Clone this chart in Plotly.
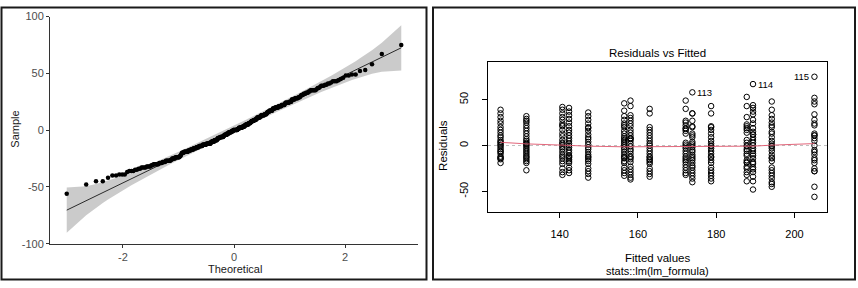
import plotly.graph_objects as go
from statistics import NormalDist
import math

# ---------------- data ----------------
group_fitted = [124.9, 131.5, 140.7, 142.4, 147.3, 156.5, 158.1, 163.0,
                172.2, 173.9, 178.7, 187.8, 189.4, 194.2, 205.1]

res_g1 = [39, 35, 31, 27, 24, 20, 17, 14, 11, 9, 6, 4, 3, 1, 0, -2, -4, -6, -7, -9, -12, -13, -14, -15, -19]
res_g2 = [32, 29, 27, 25, 22, 19, 16, 13, 10, 7, 5, 3, 2, 1, 0, -2, -4, -6, -8, -10, -12, -13, -15, -17, -19, -27]
res_g3 = [42, 39, 35, 31, 28, 24, 22, 21, 17, 13, 10, 6, 3, 2, 0, -2, -4, -7, -10, -12, -14, -17, -20, -25, -29, -32]
res_g4 = [41, 37, 33, 29, 25, 21, 17, 14, 11, 8, 5, 2, 0, -2, -5, -8, -11, -12, -13, -15, -17, -19, -24, -27, -30]
res_g5 = [36, 32, 28, 24, 20, 19, 16, 12, 9, 7, 4, 1, -2, -4, -7, -10, -12, -13, -15, -17, -20, -25, -28, -31, -35]
res_g6 = [46, 38, 32, 28, 24, 22, 20, 16, 13, 10, 8, 6, 4, 2, 0, -2, -4, -7, -10, -12, -13, -14, -17, -19, -24, -27, -30, -33]
res_g7 = [49, 43, 33, 30, 27, 24, 21, 17, 14, 11, 8, 8, 7, 5, 2, -1, -4, -6, -9, -12, -13, -15, -18, -23, -26, -29, -32, -35, -37]
res_g8 = [40, 35, 20, 17, 14, 11, 8, 5, 2, 0, -3, -6, -9, -12, -13, -15, -16, -18, -20, -25, -28, -31, -34]
res_g9 = [49, 40, 27, 25, 22, 19, 18, 16, 13, 3, 1, -1, -3, -6, -9, -12, -14, -16, -18, -21, -24, -27, -30, -32]
res_g10 = [58, 35, 35, 27, 21, 20, 13, 11, 9, 4, 2, 0, -2, -5, -7, -10, -12, -14, -16, -19, -22, -24, -27, -30, -33, -36, -40]
res_g11 = [43, 35, 21, 20, 17, 13, 9, 5, 2, 0, -1, -3, -6, -9, -12, -13, -16, -19, -24, -27, -30, -33, -36, -39]
res_g12 = [53, 43, 31, 23, 21, 19, 17, 14, 6, 3, 0, -1, -4, -6, -9, -11, -16, -18, -19, -23, -25, -29, -32, -39]
res_g13 = [67, 44, 41, 37, 34, 28, 24, 19, 15, 12, 12, 9, 6, 3, 0, -3, -6, -9, -11, -14, -18, -20, -24, -26, -29, -34, -39, -48]
res_g14 = [48, 39, 33, 29, 25, 22, 20, 15, 13, 9, 5, 2, 0, -1, -3, -6, -10, -13, -14, -17, -24, -27, -30, -33, -36, -40, -42, -45]
res_g15 = [75, 52, 48, 45, 34, 28, 24, 22, 13, 11, 11, 8, 5, 0, -5, -7, -10, -14, -16, -19, -25, -28, -28, -45, -56]

residual_groups = [res_g1, res_g2, res_g3, res_g4, res_g5, res_g6, res_g7, res_g8,
                   res_g9, res_g10, res_g11, res_g12, res_g13, res_g14, res_g15]

smooth_vals = [3.5, 1.8, 0.4, 0.0, -0.7, -1.4, -1.4, -1.4, -1.4, -1.4, -1.4, -1.0, -0.7, 0.4, 2.1]

id_labels = ["113", "114", "115"]

qq_x_ticks = [-2, 0, 2]
qq_x_ticktext = ["-2", "0", "2"]
qq_y_ticks = [-100, -50, 0, 50, 100]
qq_y_ticktext = ["-100", "-50", "0", "50", "100"]
rv_x_ticks = [140, 160, 180, 200]
rv_x_ticktext = ["140", "160", "180", "200"]
rv_y_ticks = [-50, 0, 50]
rv_y_ticktext = ["-50", "0", "50"]

# ---------------- derived ----------------
fitted = []
resid = []
for fx, g in zip(group_fitted, residual_groups):
    fitted += [fx] * len(g)
    resid += g

nd = NormalDist()
sample = sorted(resid)
n = len(sample)
theo = [nd.inv_cdf((i + 0.5) / n) for i in range(n)]


def quantile7(v, p):
    h = (len(v) - 1) * p
    lo = math.floor(h)
    hi = min(lo + 1, len(v) - 1)
    return v[lo] + (h - lo) * (v[hi] - v[lo])


q1, q3 = quantile7(sample, 0.25), quantile7(sample, 0.75)
z1, z3 = nd.inv_cdf(0.25), nd.inv_cdf(0.75)
slope = (q3 - q1) / (z3 - z1)
intercept = q1 - slope * z1
fit = [intercept + slope * t for t in theo]
zz = nd.inv_cdf(0.975)
band_up, band_lo = [], []
for i, t in enumerate(theo):
    p = (i + 0.5) / n
    se = slope / nd.pdf(t) * math.sqrt(p * (1 - p) / n)
    band_up.append(fit[i] + zz * se)
    band_lo.append(fit[i] - zz * se)

tmin, tmax = theo[0], theo[-1]
tspan = tmax - tmin
qq_xrange = [tmin - 0.05 * tspan, tmax + 0.05 * tspan]

fmin, fmax = min(fitted), max(fitted)
rv_xrange = [fmin - 0.04 * (fmax - fmin), fmax + 0.04 * (fmax - fmin)]
rmin, rmax = min(resid), max(resid)
ylo, yhi = rmin - 0.08 * (rmax - rmin), rmax + 0.08 * (rmax - rmin)
rv_yrange = [ylo - 0.04 * (yhi - ylo), yhi + 0.04 * (yhi - ylo)]

W, H = 858, 288
FONT = "Liberation Sans, Arial, sans-serif"


def px(x):
    return x / W


def py(y):
    return 1 - y / H


fig = go.Figure()

# ---- left: QQ plot ----
fig.add_trace(go.Scatter(x=theo + theo[::-1], y=band_up + band_lo[::-1], fill="toself",
                         fillcolor="rgba(190,190,190,0.8)", line=dict(width=0),
                         mode="lines", hoverinfo="skip", showlegend=False,
                         xaxis="x", yaxis="y"))
fig.add_trace(go.Scatter(x=theo, y=fit, mode="lines", line=dict(color="black", width=0.8),
                         showlegend=False, xaxis="x", yaxis="y"))
fig.add_trace(go.Scatter(x=theo, y=sample, mode="markers",
                         marker=dict(color="black", size=4.5, line=dict(width=0)),
                         showlegend=False, xaxis="x", yaxis="y"))

# ---- right: residuals vs fitted ----
fig.add_trace(go.Scatter(x=rv_xrange, y=[0, 0], mode="lines",
                         line=dict(color="#BEBEBE", width=1, dash="dot"),
                         showlegend=False, xaxis="x2", yaxis="y2"))
fig.add_trace(go.Scatter(x=fitted, y=resid, mode="markers",
                         marker=dict(symbol="circle-open", color="black", size=5.5,
                                     line=dict(width=1, color="black")),
                         showlegend=False, xaxis="x2", yaxis="y2"))
fig.add_trace(go.Scatter(x=group_fitted, y=smooth_vals, mode="lines",
                         line=dict(color="#DF536B", width=0.9),
                         showlegend=False, xaxis="x2", yaxis="y2"))

# labels of the three largest absolute residuals
order = sorted(range(len(resid)), key=lambda i: abs(resid[i]))[-3:]
order = sorted(order, key=lambda i: fitted[i])
annotations = []
for lab, i in zip(id_labels, order):
    right = fitted[i] > rv_xrange[0] + 0.9 * (rv_xrange[1] - rv_xrange[0])
    annotations.append(dict(x=fitted[i], y=resid[i], xref="x2", yref="y2", text=lab,
                            showarrow=False, xanchor="right" if right else "left",
                            xshift=-3 if right else 3, yanchor="middle",
                            font=dict(family=FONT, size=9.5, color="black")))


def ann(x, y, text, size=11, color="black", angle=0):
    return dict(x=px(x), y=py(y), xref="paper", yref="paper", text=text, textangle=angle,
                xanchor="center", yanchor="middle", showarrow=False,
                font=dict(family=FONT, size=size, color=color))


annotations += [
    ann(15, 129, "Sample", 11, "#1a1a1a", -90),
    ann(235, 274.5, "Theoretical", 11, "#1a1a1a"),
    ann(657.5, 49, "Residuals vs Fitted", 11.5),
    ann(657.5, 263, "Fitted values", 11.5),
    ann(657.5, 277, "stats::lm(lm_formula)", 11),
    ann(443, 146, "Residuals", 11.5, "black", -90),
]

shapes = [
    dict(type="rect", xref="paper", yref="paper", x0=px(1.5), x1=px(426.5), y0=py(285.5), y1=py(1.5),
         line=dict(color="#1a1a1a", width=2)),
    dict(type="rect", xref="paper", yref="paper", x0=px(433), x1=px(855), y0=py(285.5), y1=py(1.5),
         line=dict(color="#1a1a1a", width=2)),
]

tickfont_l = dict(family=FONT, size=11, color="#4D4D4D")
tickfont_r = dict(family=FONT, size=11, color="black")

fig.update_layout(
    width=W, height=H, margin=dict(l=0, r=0, t=0, b=0),
    paper_bgcolor="white", plot_bgcolor="white",
    showlegend=False,
    annotations=annotations, shapes=shapes,
    xaxis=dict(domain=[px(50), px(418)], range=qq_xrange, anchor="y",
               tickvals=qq_x_ticks, ticktext=qq_x_ticktext, ticks="outside", ticklen=3,
               tickcolor="#333333", showline=True, linecolor="#333333", linewidth=1,
               showgrid=False, zeroline=False, tickfont=tickfont_l, ticklabelstandoff=0),
    yaxis=dict(domain=[py(248), py(11)], range=[-100, 100], anchor="x",
               tickvals=qq_y_ticks, ticktext=qq_y_ticktext, ticks="outside", ticklen=3,
               tickcolor="#333333", showline=True, linecolor="#333333", linewidth=1,
               showgrid=False, zeroline=False, tickfont=tickfont_l, ticklabelstandoff=0),
    xaxis2=dict(domain=[px(488), px(827)], range=rv_xrange, anchor="y2",
                tickvals=rv_x_ticks, ticktext=rv_x_ticktext, ticks="outside", ticklen=5,
                tickcolor="black", showline=True, linecolor="black", linewidth=1, mirror=True,
                showgrid=False, zeroline=False, tickfont=tickfont_r, ticklabelstandoff=7),
    yaxis2=dict(domain=[py(215), py(58)], range=rv_yrange, anchor="x2",
                tickvals=rv_y_ticks, ticktext=rv_y_ticktext, ticks="outside", ticklen=5,
                tickcolor="black", showline=True, linecolor="black", linewidth=1, mirror=True,
                showgrid=False, zeroline=False, tickfont=tickfont_r, tickangle=-90,
                ticklabelstandoff=10),
)

fig.write_html("out.html", config={"displayModeBar": False},
               post_script="document.body.style.margin='0';")
